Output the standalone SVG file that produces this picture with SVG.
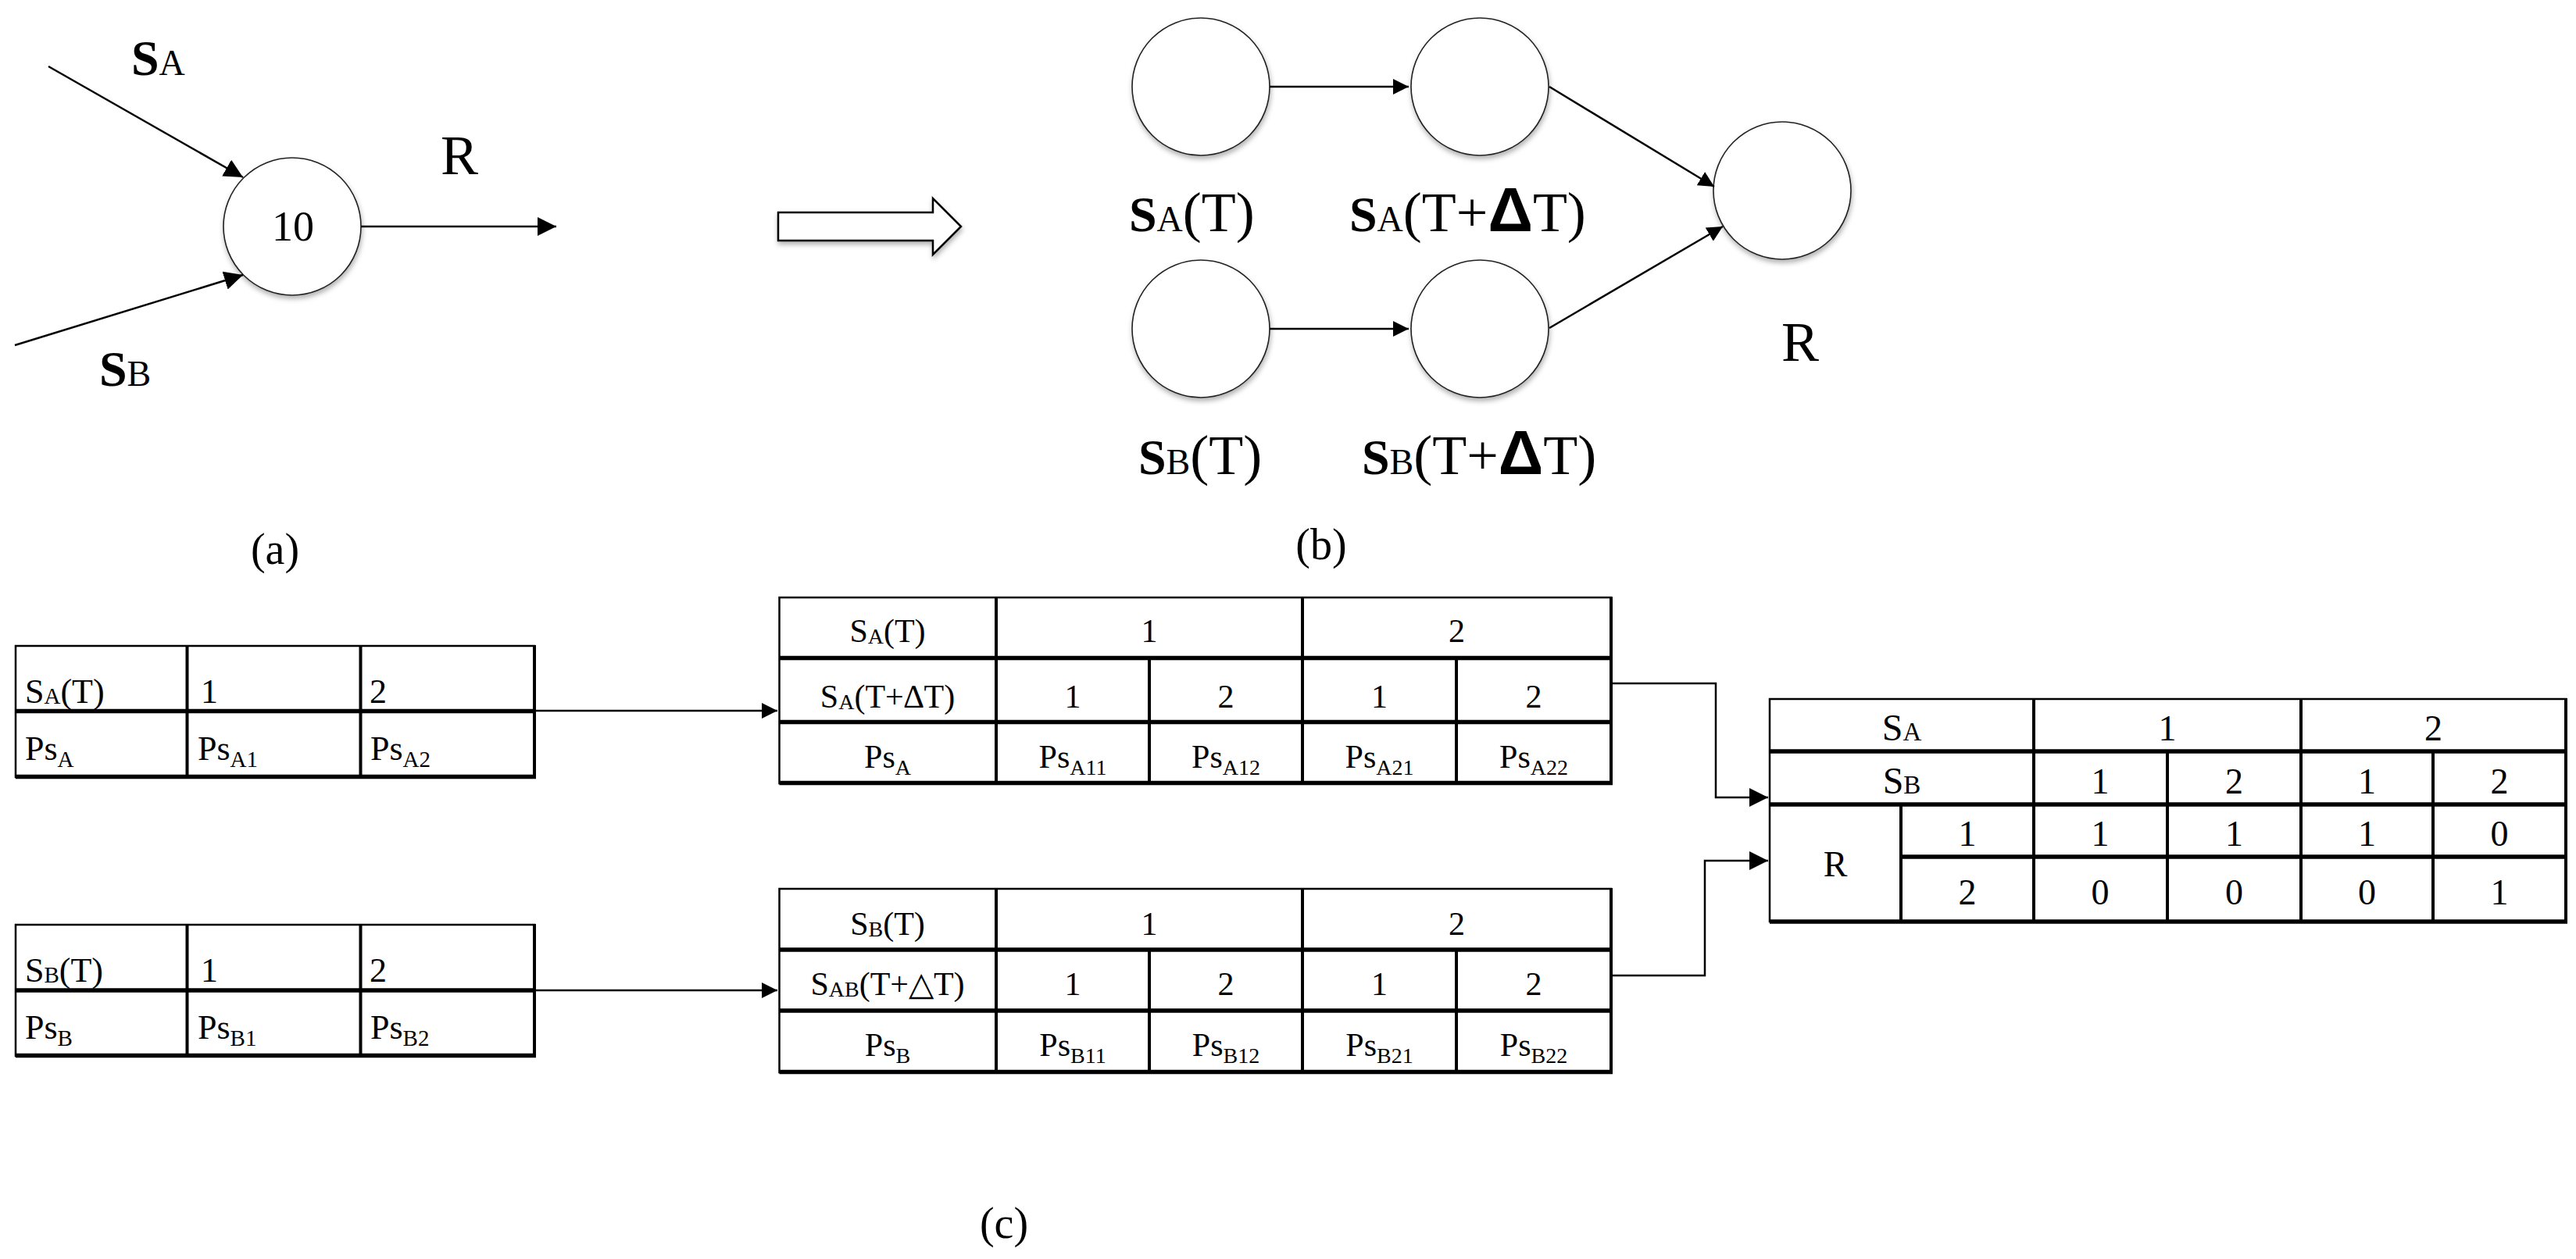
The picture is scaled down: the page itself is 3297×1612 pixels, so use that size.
<svg xmlns="http://www.w3.org/2000/svg" width="3297" height="1612" viewBox="0 0 3297 1612">
<defs>
<style>
.serif{font-family:"Liberation Serif","Times New Roman",serif;fill:#000}
.bS{font-weight:bold;font-size:64px}
.capA{font-size:46px}
.lbl{font-size:72px}
.delta{font-family:"Liberation Sans",Arial,sans-serif;font-weight:bold;font-size:80px}
.cap{font-size:56px;text-anchor:middle}
.lt{font-size:44px}
.ls{font-size:29px}
.mt{font-size:42px;text-anchor:middle}
.ms{font-size:28px}
.rt{font-size:46px;text-anchor:middle}
.rS{font-size:48px}
.rA{font-size:33px}
.circ{fill:#fff;stroke:#222;stroke-width:1.6}
.wire{fill:none;stroke:#000;stroke-width:2.5}
.thin{stroke:#000;stroke-width:2.5;fill:none}
.vert{stroke:#000;stroke-width:4;fill:none}
.thick{stroke:#000;stroke-width:5.5;fill:none}
</style>
<filter id="sh" x="-20%" y="-20%" width="140%" height="150%">
<feDropShadow dx="1" dy="4" stdDeviation="3" flood-color="#000" flood-opacity="0.3"/>
</filter>
<marker id="ahA" viewBox="0 0 24 24" refX="24" refY="12" markerWidth="24" markerHeight="24" markerUnits="userSpaceOnUse" orient="auto">
<path d="M0,0 L24,12 L0,24 z" fill="#000"/>
</marker>
<marker id="ahB" viewBox="0 0 20 20" refX="20" refY="10" markerWidth="20" markerHeight="20" markerUnits="userSpaceOnUse" orient="auto">
<path d="M0,0 L20,10 L0,20 z" fill="#000"/>
</marker>
</defs>
<rect width="3297" height="1612" fill="#fff"/>

<!-- (a) -->
<g id="a-node-10">
<circle class="circ" cx="374" cy="290" r="88" filter="url(#sh)"/>
<text class="serif" x="375" y="308" font-size="54" text-anchor="middle">10</text>
</g>
<g id="a-label-SA"><text class="serif" x="168" y="96"><tspan class="bS">S</tspan><tspan class="capA">A</tspan></text></g>
<g id="a-label-SB"><text class="serif" x="127" y="494"><tspan class="bS">S</tspan><tspan class="capA">B</tspan></text></g>
<g id="a-label-R"><text class="serif lbl" x="588" y="223" text-anchor="middle">R</text></g>
<g id="cap-a"><text class="serif cap" x="352" y="722">(a)</text></g>

<!-- hollow arrow -->
<g id="transform-arrow">
<polygon points="996,272 1194,272 1194,254 1230,290 1194,326 1194,308 996,308" fill="#fff" stroke="#000" stroke-width="2.5" stroke-linejoin="miter" filter="url(#sh)"/>
</g>

<!-- (b) -->
<g id="b-node-SAT"><circle class="circ" cx="1537" cy="111" r="88" filter="url(#sh)"/></g>
<g id="b-node-SATdT"><circle class="circ" cx="1894" cy="111" r="88" filter="url(#sh)"/></g>
<g id="b-node-SBT"><circle class="circ" cx="1537" cy="421" r="88" filter="url(#sh)"/></g>
<g id="b-node-SBTdT"><circle class="circ" cx="1894" cy="421" r="88" filter="url(#sh)"/></g>
<g id="b-node-R"><circle class="circ" cx="2281" cy="244" r="88" filter="url(#sh)"/></g>
<g id="b-labels">
<text class="serif" x="1445" y="296"><tspan class="bS">S</tspan><tspan class="capA">A</tspan><tspan class="lbl">(T)</tspan></text>
<text class="serif" x="1727" y="296"><tspan class="bS">S</tspan><tspan class="capA">A</tspan><tspan class="lbl">(T+</tspan><tspan class="delta">Δ</tspan><tspan class="lbl">T)</tspan></text>
<text class="serif" x="1457" y="607"><tspan class="bS">S</tspan><tspan class="capA">B</tspan><tspan class="lbl">(T)</tspan></text>
<text class="serif" x="1743" y="607"><tspan class="bS">S</tspan><tspan class="capA">B</tspan><tspan class="lbl">(T+</tspan><tspan class="delta">Δ</tspan><tspan class="lbl">T)</tspan></text>
<text class="serif lbl" x="2304" y="462" text-anchor="middle">R</text>
</g>
<g id="cap-b"><text class="serif cap" x="1691" y="716">(b)</text></g>

<!-- (c) left tables -->
<g id="tbl-left-A">
<rect x="20" y="827" width="664" height="168" fill="#fff" class="thin"/>
<line class="thick" x1="20" y1="910.5" x2="686" y2="910.5"/>
<line class="thick" x1="20" y1="994.5" x2="686" y2="994.5"/>
<line class="vert" x1="239.5" y1="827" x2="239.5" y2="997"/>
<line class="vert" x1="461.5" y1="827" x2="461.5" y2="997"/>
<line class="vert" x1="684" y1="826" x2="684" y2="997"/>
<text class="serif lt" x="32" y="900">S<tspan class="ls" dy="1">A</tspan><tspan dy="-1">(T)</tspan></text>
<text class="serif lt" x="257" y="900">1</text>
<text class="serif lt" x="473" y="900">2</text>
<text class="serif lt" x="32" y="973">Ps<tspan class="ls" dy="9">A</tspan></text>
<text class="serif lt" x="253" y="973">Ps<tspan class="ls" dy="9">A1</tspan></text>
<text class="serif lt" x="474" y="973">Ps<tspan class="ls" dy="9">A2</tspan></text>
</g>
<g id="tbl-left-B">
<rect x="20" y="1184" width="664" height="168" fill="#fff" class="thin"/>
<line class="thick" x1="20" y1="1268" x2="686" y2="1268"/>
<line class="thick" x1="20" y1="1351.5" x2="686" y2="1351.5"/>
<line class="vert" x1="239.5" y1="1184" x2="239.5" y2="1354"/>
<line class="vert" x1="461.5" y1="1184" x2="461.5" y2="1354"/>
<line class="vert" x1="684" y1="1183" x2="684" y2="1354"/>
<text class="serif lt" x="32" y="1257">S<tspan class="ls" dy="1">B</tspan><tspan dy="-1">(T)</tspan></text>
<text class="serif lt" x="257" y="1257">1</text>
<text class="serif lt" x="473" y="1257">2</text>
<text class="serif lt" x="32" y="1330">Ps<tspan class="ls" dy="9">B</tspan></text>
<text class="serif lt" x="253" y="1330">Ps<tspan class="ls" dy="9">B1</tspan></text>
<text class="serif lt" x="474" y="1330">Ps<tspan class="ls" dy="9">B2</tspan></text>
</g>

<!-- middle tables -->
<g id="tbl-mid-A">
<rect x="997.5" y="765" width="1064.5" height="238" fill="#fff" class="thin"/>
<line class="thick" x1="997.5" y1="842.5" x2="2064" y2="842.5"/>
<line class="thick" x1="997.5" y1="924.5" x2="2064" y2="924.5"/>
<line class="thick" x1="997.5" y1="1002.5" x2="2064" y2="1002.5"/>
<line class="vert" x1="1275" y1="765" x2="1275" y2="1005"/>
<line class="vert" x1="1667" y1="765" x2="1667" y2="1005"/>
<line class="vert" x1="1471" y1="842.5" x2="1471" y2="1005"/>
<line class="vert" x1="1864" y1="842.5" x2="1864" y2="1005"/>
<line class="vert" x1="2062" y1="764" x2="2062" y2="1005"/>
<text class="serif mt" x="1136" y="822">S<tspan class="ms" dy="2">A</tspan><tspan dy="-2">(T)</tspan></text>
<text class="serif mt" x="1471" y="822">1</text>
<text class="serif mt" x="1864.5" y="822">2</text>
<text class="serif mt" x="1136" y="906">S<tspan class="ms" dy="2">A</tspan><tspan dy="-2">(T+∆T)</tspan></text>
<text class="serif mt" x="1373" y="906">1</text>
<text class="serif mt" x="1569" y="906">2</text>
<text class="serif mt" x="1765.5" y="906">1</text>
<text class="serif mt" x="1963" y="906">2</text>
<text class="serif mt" x="1136" y="983">Ps<tspan class="ms" dy="9">A</tspan></text>
<text class="serif mt" x="1373" y="983">Ps<tspan class="ms" dy="9">A11</tspan></text>
<text class="serif mt" x="1569" y="983">Ps<tspan class="ms" dy="9">A12</tspan></text>
<text class="serif mt" x="1765.5" y="983">Ps<tspan class="ms" dy="9">A21</tspan></text>
<text class="serif mt" x="1963" y="983">Ps<tspan class="ms" dy="9">A22</tspan></text>
</g>
<g id="tbl-mid-B">
<rect x="997.5" y="1138" width="1064.5" height="235" fill="#fff" class="thin"/>
<line class="thick" x1="997.5" y1="1216" x2="2064" y2="1216"/>
<line class="thick" x1="997.5" y1="1294" x2="2064" y2="1294"/>
<line class="thick" x1="997.5" y1="1372.5" x2="2064" y2="1372.5"/>
<line class="vert" x1="1275" y1="1138" x2="1275" y2="1375"/>
<line class="vert" x1="1667" y1="1138" x2="1667" y2="1375"/>
<line class="vert" x1="1471" y1="1216" x2="1471" y2="1375"/>
<line class="vert" x1="1864" y1="1216" x2="1864" y2="1375"/>
<line class="vert" x1="2062" y1="1137" x2="2062" y2="1375"/>
<text class="serif mt" x="1136" y="1197">S<tspan class="ms" dy="2">B</tspan><tspan dy="-2">(T)</tspan></text>
<text class="serif mt" x="1471" y="1197">1</text>
<text class="serif mt" x="1864.5" y="1197">2</text>
<text class="serif mt" x="1136" y="1274">S<tspan class="ms" dy="2">AB</tspan><tspan dy="-2">(T+△T)</tspan></text>
<text class="serif mt" x="1373" y="1274">1</text>
<text class="serif mt" x="1569" y="1274">2</text>
<text class="serif mt" x="1765.5" y="1274">1</text>
<text class="serif mt" x="1963" y="1274">2</text>
<text class="serif mt" x="1136" y="1352">Ps<tspan class="ms" dy="9">B</tspan></text>
<text class="serif mt" x="1373" y="1352">Ps<tspan class="ms" dy="9">B11</tspan></text>
<text class="serif mt" x="1569" y="1352">Ps<tspan class="ms" dy="9">B12</tspan></text>
<text class="serif mt" x="1765.5" y="1352">Ps<tspan class="ms" dy="9">B21</tspan></text>
<text class="serif mt" x="1963" y="1352">Ps<tspan class="ms" dy="9">B22</tspan></text>
</g>

<!-- right table -->
<g id="tbl-right-R">
<rect x="2265" y="895" width="1019" height="285" fill="#fff" class="thin"/>
<line class="thick" x1="2265" y1="962" x2="3286" y2="962"/>
<line class="thick" x1="2265" y1="1030" x2="3286" y2="1030"/>
<line class="thick" x1="2433" y1="1097" x2="3286" y2="1097"/>
<line class="thick" x1="2265" y1="1180" x2="3286" y2="1180"/>
<line class="vert" x1="2603" y1="895" x2="2603" y2="1182"/>
<line class="vert" x1="2945" y1="895" x2="2945" y2="1182"/>
<line class="vert" x1="2774" y1="962" x2="2774" y2="1182"/>
<line class="vert" x1="3114" y1="962" x2="3114" y2="1182"/>
<line class="vert" x1="2433" y1="1030" x2="2433" y2="1182"/>
<line class="vert" x1="3284" y1="894" x2="3284" y2="1182"/>
<text class="serif rt" x="2434" y="948"><tspan class="rS">S</tspan><tspan class="rA">A</tspan></text>
<text class="serif rt" x="2774" y="948">1</text>
<text class="serif rt" x="3114.5" y="948">2</text>
<text class="serif rt" x="2434" y="1016"><tspan class="rS">S</tspan><tspan class="rA">B</tspan></text>
<text class="serif rt" x="2688" y="1016">1</text>
<text class="serif rt" x="2859.5" y="1016">2</text>
<text class="serif rt" x="3029.5" y="1016">1</text>
<text class="serif rt" x="3199" y="1016">2</text>
<text class="serif rt" x="2349" y="1122">R</text>
<text class="serif rt" x="2518" y="1083">1</text>
<text class="serif rt" x="2688" y="1083">1</text>
<text class="serif rt" x="2859.5" y="1083">1</text>
<text class="serif rt" x="3029.5" y="1083">1</text>
<text class="serif rt" x="3199" y="1083">0</text>
<text class="serif rt" x="2518" y="1158">2</text>
<text class="serif rt" x="2688" y="1158">0</text>
<text class="serif rt" x="2859.5" y="1158">0</text>
<text class="serif rt" x="3029.5" y="1158">0</text>
<text class="serif rt" x="3199" y="1158">1</text>
</g>
<g id="cap-c"><text class="serif cap" x="1285" y="1585">(c)</text></g>

<!-- connectors -->
<g id="connectors">
<path class="wire" stroke-width="3" d="M62,85 L311,227" marker-end="url(#ahA)"/>
<path class="wire" stroke-width="3" d="M19,442 L311,352" marker-end="url(#ahA)"/>
<path class="wire" stroke-width="3" d="M462,290 L712,290" marker-end="url(#ahA)"/>
<path class="wire" d="M1625,111 L1803,111" marker-end="url(#ahB)"/>
<path class="wire" d="M1625,421 L1803,421" marker-end="url(#ahB)"/>
<path class="wire" d="M1983,111 L2194,239" marker-end="url(#ahB)"/>
<path class="wire" d="M1983,420 L2205,290" marker-end="url(#ahB)"/>
<path class="wire" d="M686,910 L995,910" marker-end="url(#ahB)"/>
<path class="wire" d="M686,1268 L995,1268" marker-end="url(#ahB)"/>
<path class="wire" stroke-width="3" d="M2064,875 H2196 V1021 H2263" marker-end="url(#ahA)"/>
<path class="wire" stroke-width="3" d="M2064,1249 H2182 V1102 H2263" marker-end="url(#ahA)"/>
</g>
</svg>
